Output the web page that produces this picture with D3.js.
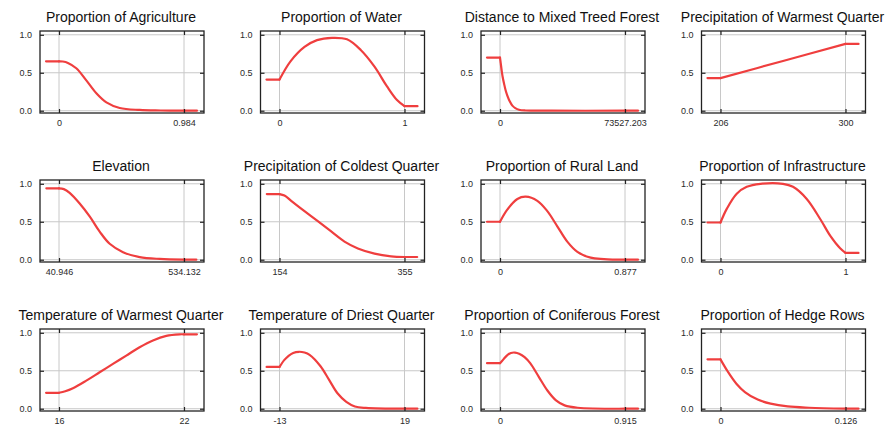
<!DOCTYPE html>
<html>
<head>
<meta charset="utf-8">
<script src="https://cdn.jsdelivr.net/npm/d3@7"></script>
<style>
  html, body { margin: 0; padding: 0; background: #fff; }
  svg { display: block; }
  .title { font-family: "Liberation Sans", Arial, sans-serif; font-size: 14px; fill: #111; }
  .tick text { font-family: "Liberation Sans", Arial, sans-serif; font-size: 9px; fill: #2a2a2a; }
</style>
</head>
<body>
<svg id="chart" width="893" height="427"></svg>
<script>
// ---------- data ----------
const titles = [
  "Proportion of Agriculture", "Proportion of Water", "Distance to Mixed Treed Forest", "Precipitation of Warmest Quarter",
  "Elevation", "Precipitation of Coldest Quarter", "Proportion of Rural Land", "Proportion of Infrastructure",
  "Temperature of Warmest Quarter", "Temperature of Driest Quarter", "Proportion of Coniferous Forest", "Proportion of Hedge Rows"
];
const xMins = [0, 0, 0, 206, 40.946, 154, 0, 0, 16, -13, 0, 0];
const xMaxs = [0.984, 1, 73527.203, 300, 534.132, 355, 0.877, 1, 22, 19, 0.915, 0.126];
const xTickLabels = [
  ["0", "0.984"], ["0", "1"], ["0", "73527.203"], ["206", "300"],
  ["40.946", "534.132"], ["154", "355"], ["0", "0.877"], ["0", "1"],
  ["16", "22"], ["-13", "19"], ["0", "0.915"], ["0", "0.126"]
];
const yTickValues = [0, 0.5, 1.0];
const yTickLabels = ["0.0", "0.5", "1.0"];

const agricultureX = [-0.102, 0, 0.03, 0.07, 0.136, 0.215, 0.294, 0.373, 0.478, 0.635, 0.80, 0.984, 1.086];
const agricultureY = [0.65, 0.65, 0.648, 0.63, 0.56, 0.40, 0.23, 0.11, 0.036, 0.01, 0.003, 0, 0];

const waterX = [-0.104, 0, 0.088, 0.2, 0.30, 0.42, 0.54, 0.65, 0.76, 0.86, 0.94, 1.0, 1.104];
const waterY = [0.41, 0.41, 0.65, 0.84, 0.93, 0.96, 0.94, 0.80, 0.58, 0.32, 0.14, 0.06, 0.06];

const mixedX = [-7647, 0, 400, 980, 1600, 2353, 3300, 4313, 5800, 7255, 9000, 11176, 15000, 30000, 73527.203, 81174];
const mixedY = [0.70, 0.70, 0.63, 0.53, 0.44, 0.36, 0.27, 0.20, 0.12, 0.067, 0.035, 0.013, 0.003, 0, 0, 0];

const pwqX = [196.2, 206, 253, 300, 309.8];
const pwqY = [0.43, 0.43, 0.655, 0.88, 0.88];

const elevationX = [-9.0, 40.946, 60, 83.0, 122.5, 161.9, 201.4, 240.9, 293.5, 359.2, 438.1, 534.132, 582.8];
const elevationY = [0.94, 0.94, 0.93, 0.88, 0.74, 0.57, 0.37, 0.21, 0.10, 0.035, 0.01, 0, 0];

const pcqX = [133.6, 154, 162, 172.8, 194.2, 215.6, 237.1, 258.5, 280, 306.8, 333.6, 355, 375.4];
const pcqY = [0.865, 0.865, 0.845, 0.776, 0.64, 0.507, 0.372, 0.238, 0.148, 0.08, 0.045, 0.036, 0.036];

const ruralX = [-0.091, 0, 0.051, 0.122, 0.18, 0.262, 0.332, 0.402, 0.472, 0.543, 0.636, 0.73, 0.877, 0.968];
const ruralY = [0.50, 0.50, 0.66, 0.80, 0.83, 0.776, 0.64, 0.44, 0.238, 0.103, 0.027, 0.009, 0, 0];

const infraX = [-0.104, 0, 0.05, 0.13, 0.21, 0.32, 0.5, 0.58, 0.69, 0.80, 0.88, 0.957, 1.0, 1.104];
const infraY = [0.49, 0.49, 0.67, 0.87, 0.96, 1.0, 1.0, 0.96, 0.80, 0.53, 0.31, 0.15, 0.09, 0.09];

const twqX = [15.38, 16, 16.3, 16.67, 17.31, 17.95, 18.59, 19.23, 19.87, 20.51, 21.15, 21.79, 22, 22.62];
const twqY = [0.21, 0.21, 0.23, 0.27, 0.37, 0.48, 0.59, 0.70, 0.81, 0.90, 0.96, 0.98, 0.98, 0.98];

const tdqX = [-16.3, -13, -11.8, -10.8, -9.5, -8.0, -6.6, -5.3, -2.5, -0.3, 1.9, 4.1, 6.3, 9.1, 19, 22.3];
const tdqY = [0.55, 0.55, 0.64, 0.69, 0.735, 0.75, 0.74, 0.71, 0.56, 0.38, 0.20, 0.09, 0.03, 0.01, 0, 0];

const coniferousX = [-0.095, 0, 0.025, 0.05, 0.08, 0.11, 0.14, 0.18, 0.221, 0.284, 0.347, 0.41, 0.473, 0.568, 0.915, 1.01];
const coniferousY = [0.60, 0.60, 0.65, 0.70, 0.735, 0.74, 0.725, 0.68, 0.60, 0.42, 0.24, 0.11, 0.044, 0.013, 0, 0];

const hedgeX = [-0.0131, 0, 0.0073, 0.016, 0.0246, 0.0375, 0.0505, 0.0677, 0.0893, 0.126, 0.1391];
const hedgeY = [0.65, 0.65, 0.49, 0.33, 0.22, 0.12, 0.067, 0.03, 0.013, 0, 0];

const curvesX = [agricultureX, waterX, mixedX, pwqX, elevationX, pcqX, ruralX, infraX, twqX, tdqX, coniferousX, hedgeX];
const curvesY = [agricultureY, waterY, mixedY, pwqY, elevationY, pcqY, ruralY, infraY, twqY, tdqY, coniferousY, hedgeY];

// ---------- layout ----------
const svg = d3.select("#chart");
const panelW = 164, panelH = 82;
const colStep = 220.5, rowStep = 149;
const left0 = 40, top0 = 31;
const curveColor = "#ef3e3e";

titles.forEach((title, i) => {
  const col = i % 4, row = Math.floor(i / 4);
  const left = left0 + col * colStep;
  const top = top0 + row * rowStep;
  const g = svg.append("g").attr("transform", `translate(${left},${top})`);

  const xmin = xMins[i], xmax = xMaxs[i], r = xmax - xmin;
  const x = d3.scaleLinear().domain([xmin - 0.152 * r, xmax + 0.16 * r]).range([0, panelW]);
  const y = d3.scaleLinear().domain([-0.03, 1.05]).range([panelH, 0]);

  // gridlines
  g.selectAll(".hgrid").data(yTickValues).join("line")
    .attr("x1", 0).attr("x2", panelW)
    .attr("y1", d => y(d)).attr("y2", d => y(d))
    .attr("stroke", "#c8c8c8").attr("stroke-width", 1);
  g.selectAll(".vgrid").data([xmin, xmax]).join("line")
    .attr("y1", 0).attr("y2", panelH)
    .attr("x1", d => x(d)).attr("x2", d => x(d))
    .attr("stroke", "#c8c8c8").attr("stroke-width", 1);

  // curve: flat left part, response inside [min,max], flat right part
  const pts = curvesX[i].map((v, k) => [v, curvesY[i][k]]);
  const eps = 1e-9 * r;
  const leftPts = pts.filter(p => p[0] <= xmin + eps);
  const midPts = pts.filter(p => p[0] >= xmin - eps && p[0] <= xmax + eps);
  const rightPts = pts.filter(p => p[0] >= xmax - eps);
  const lin = d3.line().x(d => x(d[0])).y(d => y(d[1]));
  const smooth = d3.line().x(d => x(d[0])).y(d => y(d[1])).curve(d3.curveCatmullRom.alpha(0.5));
  [[leftPts, lin], [midPts, smooth], [rightPts, lin]].forEach(([p, gen]) => {
    g.append("path").datum(p)
      .attr("fill", "none")
      .attr("stroke", curveColor)
      .attr("stroke-width", 2.2)
      .attr("stroke-linejoin", "round")
      .attr("stroke-linecap", "round")
      .attr("d", gen);
  });

  // axes (inward ticks)
  const styleAxis = sel => {
    sel.select(".domain").remove();
    sel.selectAll(".tick line").attr("stroke", "#222").attr("stroke-width", 1.2);
  };
  g.append("g").attr("transform", `translate(0,${panelH})`)
    .call(d3.axisBottom(x).tickValues([xmin, xmax]).tickSize(-4).tickPadding(7)
      .tickFormat((d, k) => xTickLabels[i][k]))
    .call(styleAxis);
  g.append("g")
    .call(d3.axisTop(x).tickValues([xmin, xmax]).tickSize(-4).tickFormat(""))
    .call(styleAxis);
  g.append("g")
    .call(d3.axisLeft(y).tickValues(yTickValues).tickSize(-4).tickPadding(8)
      .tickFormat((d, k) => yTickLabels[k]))
    .call(styleAxis);
  g.append("g").attr("transform", `translate(${panelW},0)`)
    .call(d3.axisRight(y).tickValues(yTickValues).tickSize(-4).tickFormat(""))
    .call(styleAxis);

  // frame
  g.append("rect").attr("x", 0).attr("y", 0).attr("width", panelW).attr("height", panelH)
    .attr("fill", "none").attr("stroke", "#222").attr("stroke-width", 1.3);

  // title
  svg.append("text").attr("class", "title")
    .attr("x", left + panelW / 2 - 1).attr("y", top - 9)
    .attr("text-anchor", "middle").text(title);
});
</script>
</body>
</html>
